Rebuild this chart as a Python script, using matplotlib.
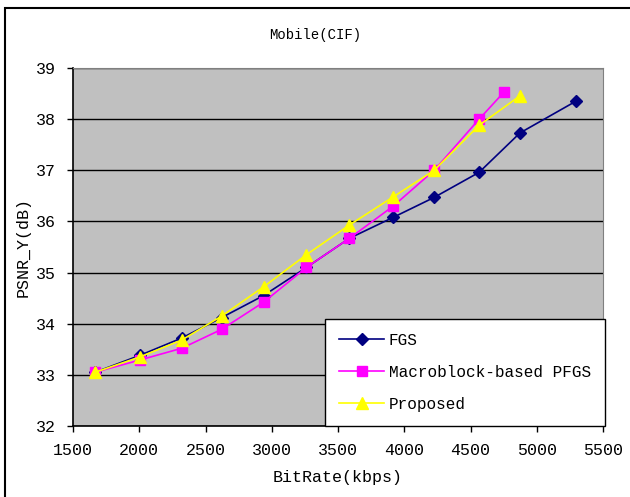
import numpy as np
import matplotlib
matplotlib.use("Agg")
import matplotlib.pyplot as plt
from matplotlib.patches import Rectangle

# Dữ liệu
bitrate_fgs = [1666, 2004, 2321, 2622, 2938, 3262, 3586, 3917, 4226, 4565, 4873, 5295]
psnr_fgs = [33.05, 33.38, 33.72, 34.12, 34.55, 35.10, 35.67, 36.08, 36.47, 36.96, 37.73, 38.35]

bitrate_mb = [1666, 2004, 2321, 2622, 2938, 3262, 3586, 3917, 4226, 4565, 4753]
psnr_mb = [33.05, 33.29, 33.52, 33.89, 34.42, 35.10, 35.67, 36.30, 37.00, 38.00, 38.53]

bitrate_prop = [1666, 2004, 2321, 2622, 2938, 3262, 3586, 3917, 4226, 4565, 4870]
psnr_prop = [33.05, 33.35, 33.68, 34.15, 34.72, 35.35, 35.93, 36.48, 37.00, 37.88, 38.45]

font = "Liberation Mono"

fig = plt.figure(figsize=(6.3, 4.97), dpi=100)
ax = fig.add_axes([0.1159, 0.1429, 0.8413, 0.7203])

# Khung ngoài của biểu đồ
fig.patches.append(Rectangle((5 / 630, -0.01), 1, 1 - 8 / 497 + 0.01, transform=fig.transFigure,
                             fill=False, edgecolor="black", linewidth=1.5))

ax.set_facecolor("#C0C0C0")
ax.plot(bitrate_fgs, psnr_fgs, color="#000080", marker="D", markersize=6, linewidth=1.2, label="FGS")
ax.plot(bitrate_mb, psnr_mb, color="#FF00FF", marker="s", markersize=7, linewidth=1.2,
        label="Macroblock-based PFGS")
ax.plot(bitrate_prop, psnr_prop, color="#FFFF00", marker="^", markersize=9, linewidth=1.2, label="Proposed")

ax.set_xlim(1500, 5500)
ax.set_ylim(32, 39)
ax.set_xticks(np.arange(1500, 5501, 500))
ax.set_yticks(np.arange(32, 40, 1))
ax.yaxis.grid(True, color="black", linewidth=1)
ax.set_axisbelow(True)
for lbl in ax.get_xticklabels() + ax.get_yticklabels():
    lbl.set_fontfamily(font)
    lbl.set_fontsize(12)
ax.tick_params(direction="out", length=4, width=1, colors="black", pad=8)

for side in ["top", "right"]:
    ax.spines[side].set_color("#808080")
for side in ["left", "bottom"]:
    ax.spines[side].set_color("black")
    ax.spines[side].set_linewidth(1.2)

ax.set_xlabel("BitRate(kbps)", fontfamily=font, fontsize=12, labelpad=9)
ax.set_ylabel("PSNR_Y(dB)", fontfamily=font, fontsize=12, labelpad=4)
fig.text(0.5, 1 - 35 / 497, "Mobile(CIF)", ha="center", va="center", fontfamily=font, fontsize=10)

leg = ax.legend(loc="lower right", bbox_to_anchor=(1.004, 0), borderaxespad=0,
                prop={"family": font, "size": 11.5}, fancybox=False, framealpha=1,
                edgecolor="black", handlelength=2.8, labelspacing=1.05, borderpad=0.9,
                handletextpad=0.3)
leg.get_frame().set_linewidth(1)

fig.savefig("out.png", dpi=100)
